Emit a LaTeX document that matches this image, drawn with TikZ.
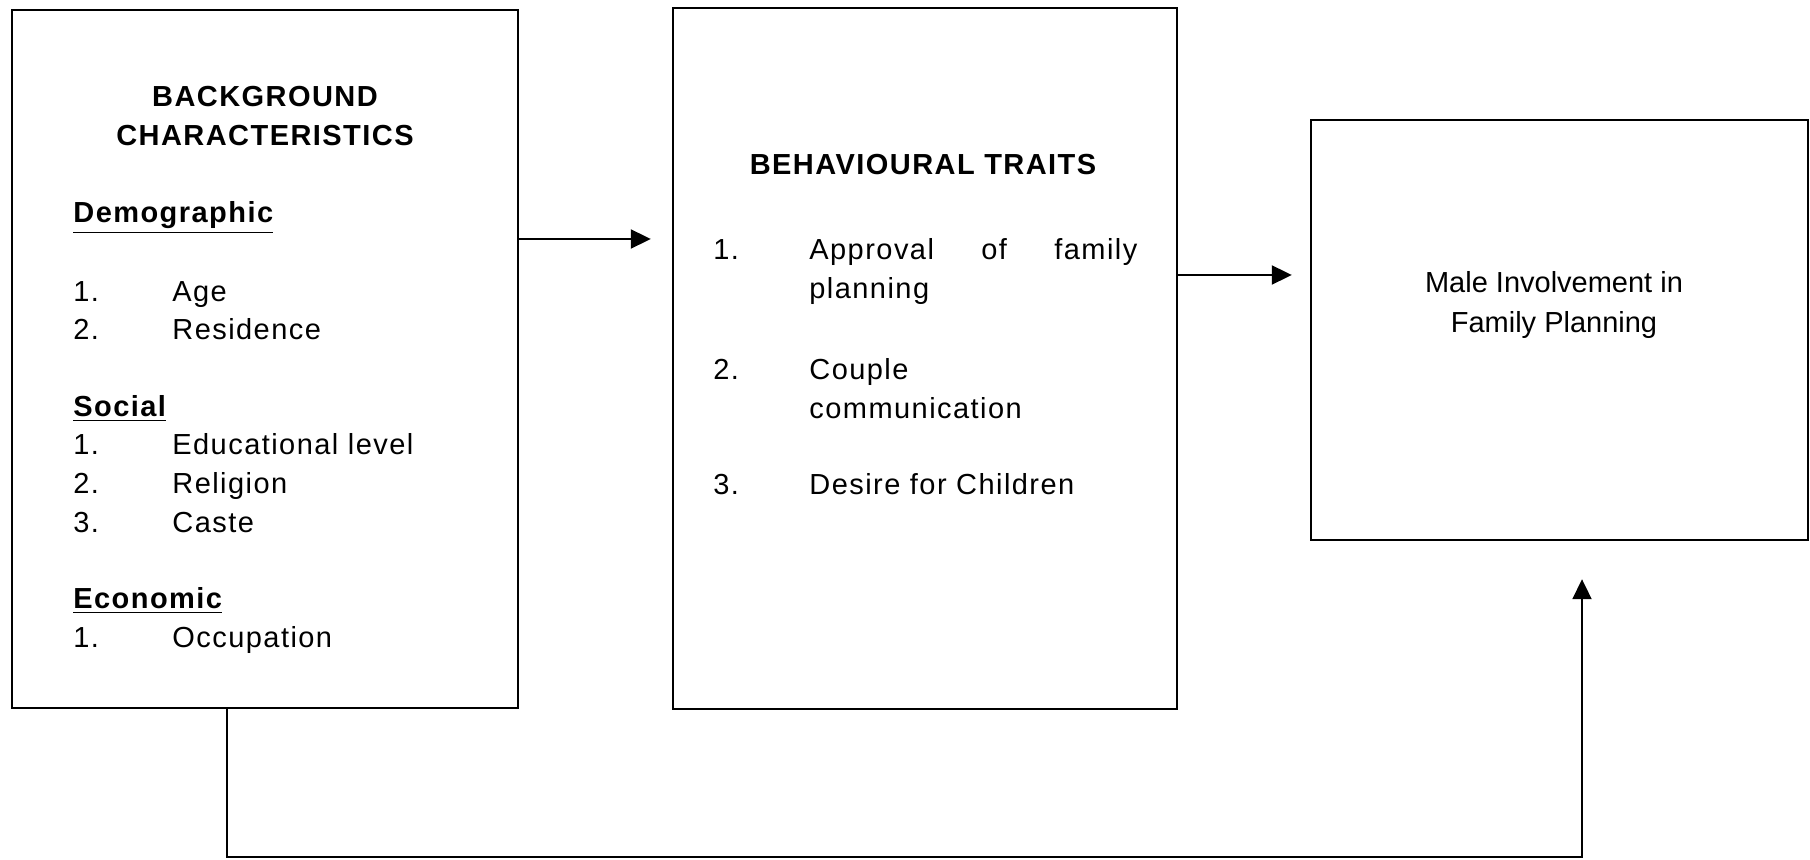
\documentclass[tikz,border=0pt]{standalone}
\usepackage{fontspec}
\setmainfont{Liberation Sans}[LetterSpace=5]
\newfontfamily\plainfont{Liberation Sans}
\usepackage{tikz}
\usetikzlibrary{arrows.meta}

\tikzset{
  box/.style={draw, line width=1.2pt, inner sep=0pt},
  txt/.style={anchor=base west, inner sep=0pt},
  head/.style={anchor=base, inner sep=0pt, font=\bfseries},
  arr/.style={line width=1pt, -{Triangle[length=10pt,width=9.5pt]}},
}

\begin{document}
\fontsize{14.5pt}{19.5pt}\selectfont
\begin{tikzpicture}[x=0.5pt, y=-0.5pt]
    \useasboundingbox (0,0) rectangle (1810,860);
    \node[box, minimum width=253pt, minimum height=349pt] (bg) at (265,359) {};
    \node[box, minimum width=252pt, minimum height=350.5pt] (bh) at (925,358.5) {};
    \node[box, minimum width=248.5pt, minimum height=210pt] (mi) at (1559.5,330) {};

    \begin{scope}
      \node[head] (bgA) at (265,107) {BACKGROUND};
      \node[head] (bgB) at (265,146) {CHARACTERISTICS};
      \node[txt, font=\bfseries] (demo) at (73,223) {\underline{Demographic}};
      \node[txt] (dA) at (73,302) {1.};
      \node[txt] (dAt) at (172,302) {Age};
      \node[txt] (dB) at (73,340) {2.};
      \node[txt] (dBt) at (172,340) {Residence};
      \node[txt, font=\bfseries] (soc) at (73,417) {\underline{Social}};
      \node[txt] (sA) at (73,455) {1.};
      \node[txt] (sAt) at (172,455) {Educational level};
      \node[txt] (sB) at (73,494) {2.};
      \node[txt] (sBt) at (172,494) {Religion};
      \node[txt] (sC) at (73,533) {3.};
      \node[txt] (sCt) at (172,533) {Caste};
      \node[txt, font=\bfseries] (eco) at (73,609) {\underline{Economic}};
      \node[txt] (eA) at (73,647) {1.};
      \node[txt] (eAt) at (172,647) {Occupation};
    \end{scope}

    \begin{scope}
      \node[head] (bhA) at (923,175) {BEHAVIOURAL TRAITS};
      \node[txt] (tA) at (713,260) {1.};
      \node[txt, text width=164pt] (tAt) at (809,260) {Approval\hfill of\hfill family\\planning};
      \node[txt] (tB) at (713,380) {2.};
      \node[txt, text width=164pt] (tBt) at (809,380) {Couple\\communication};
      \node[txt] (tC) at (713,495) {3.};
      \node[txt] (tCt) at (809,495) {Desire for Children};
    \end{scope}

    \node[head, font=\plainfont] (miA) at (1554,293) {Male Involvement in};
    \node[head, font=\plainfont] (miB) at (1554,333) {Family Planning};

    \draw[arr, shorten >=10.5pt] (bg.east |- 0,239) -- (bh.west |- 0,239);
    \draw[arr, shorten >=9pt] (bh.east |- 0,275) -- (mi.west |- 0,275);
    \draw[arr, shorten >=19pt] (bg.south -| 227,0) -- (227,857) -| (mi.south -| 1582,0);
\end{tikzpicture}
\end{document}
